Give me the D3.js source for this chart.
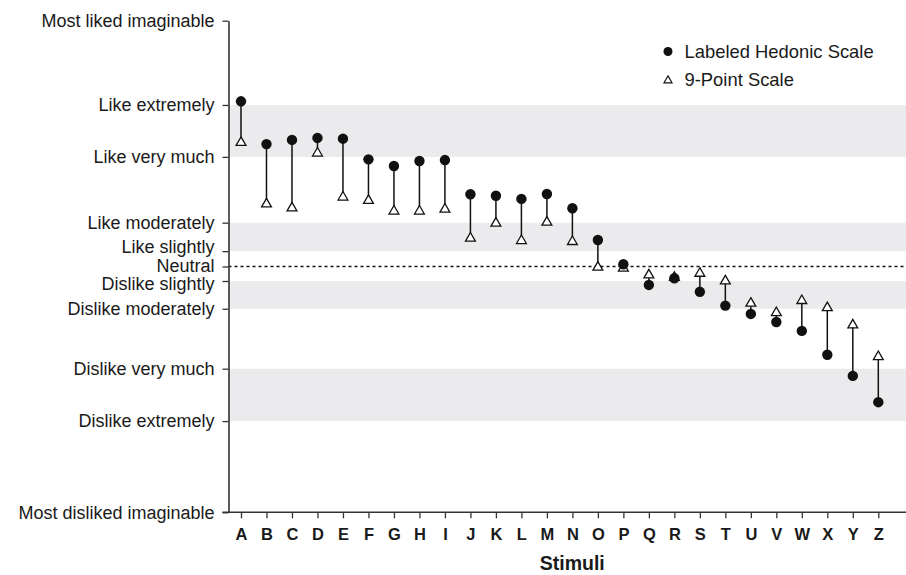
<!DOCTYPE html>
<html>
<head>
<meta charset="utf-8">
<script src="https://cdn.jsdelivr.net/npm/d3@7"></script>
<style>
  html, body { margin: 0; padding: 0; background: #fff; }
  svg { display: block; font-family: "Liberation Sans", Arial, sans-serif; }
</style>
</head>
<body>
<svg id="chart" width="906" height="575"></svg>
<script>
// Labeled hedonic scale anchors and their positions on the -100..100 scale
const scaleLabels = ["Most liked imaginable", "Like extremely", "Like very much", "Like moderately",
  "Like slightly", "Neutral", "Dislike slightly", "Dislike moderately", "Dislike very much",
  "Dislike extremely", "Most disliked imaginable"];
const scaleValues = [100, 65.72, 44.59, 17.83, 6.25, 0, -5.9, -17.18, -41.58, -62.89, -100];

// Stimuli and mean scores for each scale (expressed in labeled-scale units)
const stimuli = ["A","B","C","D","E","F","G","H","I","J","K","L","M","N","O","P","Q","R","S","T","U","V","W","X","Y","Z"];
const lhsScores = [67.2, 49.8, 51.5, 52.3, 52.0, 43.6, 40.9, 42.9, 43.3, 29.4, 28.8, 27.5, 29.5, 23.7,
  10.8, 0.9, -7.5, -4.8, -10.3, -15.9, -19.3, -22.6, -26.2, -35.9, -44.5, -55.2];
const ninePointScores = [50.4, 25.4, 23.8, 46.1, 28.2, 26.8, 22.5, 22.5, 23.3, 11.5, 17.6, 10.5, 18.0, 10.1,
  -0.3, -0.7, -3.5, -4.5, -2.8, -5.9, -15.0, -18.8, -13.9, -16.8, -23.8, -36.7];

const legendLabels = ["Labeled Hedonic Scale", "9-Point Scale"];

// Shaded bands between pairs of scale anchors
const bandPairs = [["Like extremely", "Like very much"], ["Like moderately", "Like slightly"],
  ["Dislike slightly", "Dislike moderately"], ["Dislike very much", "Dislike extremely"]];

// The three closely spaced anchors near neutral are nudged apart so they stay legible
const labelNudge = { "Like slightly": -4, "Neutral": -1, "Dislike slightly": 3 };

const svg = d3.select("#chart");
const plotLeft = 228.5, plotRight = 906, plotTop = 20.7, plotBottom = 512.3;

const y = d3.scaleLinear().domain([-100, 100]).range([plotBottom, plotTop]);
const x = d3.scalePoint().domain(stimuli).range([241, 878.3]);
const valueOf = name => scaleValues[scaleLabels.indexOf(name)];

// bands
svg.append("g").selectAll("rect").data(bandPairs).join("rect")
  .attr("x", plotLeft)
  .attr("width", plotRight - plotLeft)
  .attr("y", d => y(valueOf(d[0])))
  .attr("height", d => y(valueOf(d[1])) - y(valueOf(d[0])))
  .attr("fill", "#ebebed");

// neutral reference line
svg.append("line")
  .attr("x1", plotLeft).attr("x2", plotRight)
  .attr("y1", y(0)).attr("y2", y(0))
  .attr("stroke", "#111").attr("stroke-width", 1.4)
  .attr("stroke-dasharray", "3,3");

// y axis
const yAxis = d3.axisLeft(y)
  .tickValues(scaleValues)
  .tickFormat(v => scaleLabels[scaleValues.indexOf(v)])
  .tickSize(6).tickSizeOuter(0).tickPadding(8);
const gy = svg.append("g").attr("transform", `translate(${plotLeft},0)`).call(yAxis);
gy.select(".domain").attr("stroke", "#333").attr("stroke-width", 1.6);
gy.selectAll(".tick line").attr("stroke", "#333").attr("stroke-width", 1.3);
gy.selectAll(".tick text").attr("font-size", 18).attr("fill", "#1a1a1a")
  .attr("font-family", "'Liberation Sans', Arial, sans-serif")
  .attr("y", function () { return labelNudge[this.textContent] || 0; });

// x axis
svg.append("line")
  .attr("x1", plotLeft - 6).attr("x2", plotRight)
  .attr("y1", plotBottom).attr("y2", plotBottom)
  .attr("stroke", "#333").attr("stroke-width", 1.6);
const xAxis = d3.axisBottom(x).tickSize(6).tickSizeOuter(0).tickPadding(10);
const gx = svg.append("g").attr("transform", `translate(0,${plotBottom})`).call(xAxis);
gx.select(".domain").remove();
gx.selectAll(".tick line").attr("stroke", "#333").attr("stroke-width", 1.3);
gx.selectAll(".tick text").attr("font-size", 16.5).attr("font-weight", "bold").attr("fill", "#1a1a1a")
  .attr("font-family", "'Liberation Sans', Arial, sans-serif");

svg.append("text")
  .attr("x", (plotLeft + plotRight) / 2 + 5)
  .attr("y", 570)
  .attr("text-anchor", "middle")
  .attr("font-size", 19.5).attr("font-weight", "bold").attr("fill", "#1a1a1a")
  .text("Stimuli");

// stems
const rows = stimuli.map((s, i) => ({ s, lhs: lhsScores[i], nine: ninePointScores[i] }));
svg.append("g").selectAll("line").data(rows).join("line")
  .attr("x1", d => x(d.s)).attr("x2", d => x(d.s))
  .attr("y1", d => y(d.lhs)).attr("y2", d => y(d.nine))
  .attr("stroke", "#111").attr("stroke-width", 1.5);

const tri = d3.symbol().type(d3.symbolTriangle).size(42);
svg.append("g").selectAll("path").data(rows).join("path")
  .attr("transform", d => `translate(${x(d.s)},${y(d.nine)})`)
  .attr("d", tri)
  .attr("fill", "#fff").attr("stroke", "#111").attr("stroke-width", 1.3);

svg.append("g").selectAll("circle").data(rows).join("circle")
  .attr("cx", d => x(d.s)).attr("cy", d => y(d.lhs))
  .attr("r", 5.2)
  .attr("fill", "#111");

// legend
const lg = svg.append("g").attr("transform", "translate(668,0)");
lg.append("circle").attr("cx", 0).attr("cy", 51.5).attr("r", 4.5).attr("fill", "#111");
lg.append("path").attr("transform", "translate(0,80.5)")
  .attr("d", d3.symbol().type(d3.symbolTriangle).size(28))
  .attr("fill", "#fff").attr("stroke", "#111").attr("stroke-width", 1.2);
lg.selectAll("text").data(legendLabels).join("text")
  .attr("x", 16.5).attr("y", (d, i) => 57.5 + i * 28)
  .attr("font-size", 18.4).attr("fill", "#1a1a1a")
  .text(d => d);
</script>
</body>
</html>
